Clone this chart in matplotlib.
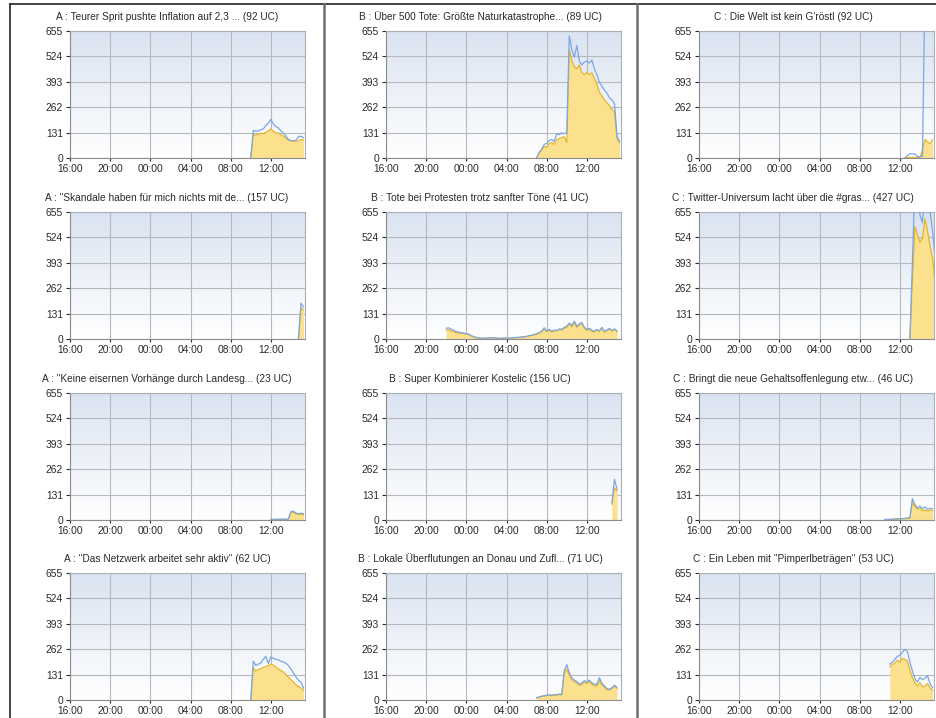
import numpy as np
import matplotlib
matplotlib.use('Agg')
import matplotlib.pyplot as plt
from matplotlib.colors import LinearSegmentedColormap
from matplotlib.lines import Line2D

plt.rcParams['font.family'] = ['Liberation Sans', 'DejaVu Sans']

# titles, columns A / B / C, rows top to bottom
titles_a = ['A : Teurer Sprit pushte Inflation auf 2,3 ... (92 UC)',
            'A : "Skandale haben für mich nichts mit de... (157 UC)',
            'A : "Keine eisernen Vorhänge durch Landesg... (23 UC)',
            'A : "Das Netzwerk arbeitet sehr aktiv" (62 UC)']
titles_b = ['B : Über 500 Tote: Größte Naturkatastrophe... (89 UC)',
            'B : Tote bei Protesten trotz sanfter Töne (41 UC)',
            'B : Super Kombinierer Kostelic (156 UC)',
            'B : Lokale Überflutungen an Donau und Zufl... (71 UC)']
titles_c = ["C : Die Welt ist kein G'röstl (92 UC)",
            'C : Twitter-Universum lacht über die #gras... (427 UC)',
            'C : Bringt die neue Gehaltsoffenlegung etw... (46 UC)',
            'C : Ein Leben mit "Pimperlbeträgen" (53 UC)']

time_labels = ['16:00', '20:00', '00:00', '04:00', '08:00', '12:00']
y_ticks = [0, 131, 262, 393, 524, 655]

# series start time (HH:MM), then values every 15 minutes
a1_start = '10:00'
a1_yellow = [0, 120, 118, 122, 128, 126, 132, 140, 150, 138, 130, 128, 120, 112, 104, 92, 87, 88, 86, 90, 95, 94]
a1_blue = [0, 142, 138, 140, 145, 150, 168, 180, 200, 175, 162, 155, 140, 128, 113, 95, 90, 88, 92, 110, 112, 105]

a2_start = '14:45'
a2_yellow = [0, 160, 150]
a2_blue = [0, 185, 165]

a3_start = '12:00'
a3_yellow = [2, 2, 3, 3, 3, 3, 3, 5, 38, 40, 32, 28, 30, 28]
a3_blue = [3, 3, 4, 4, 4, 4, 4, 6, 44, 45, 36, 32, 35, 32]

a4_start = '10:00'
a4_yellow = [0, 165, 150, 158, 160, 168, 172, 178, 185, 180, 170, 160, 152, 145, 130, 118, 105, 92, 78, 70, 62, 50]
a4_blue = [0, 200, 178, 185, 190, 210, 225, 188, 222, 215, 210, 208, 200, 196, 190, 178, 160, 140, 118, 102, 92, 62]

b1_start = '07:00'
b1_yellow = [0, 25, 40, 60, 55, 75, 80, 70, 95, 100, 105, 110, 80, 560, 500, 470, 460, 480, 440, 430, 440,
             430, 440, 410, 380, 340, 320, 300, 285, 270, 250, 240, 100, 80]
b1_blue = [0, 30, 45, 70, 75, 90, 95, 85, 125, 120, 130, 125, 130, 630, 560, 520, 580, 500, 480, 495, 500,
           490, 505, 460, 430, 390, 370, 350, 335, 310, 300, 280, 115, 85]

b2_start = '22:00'
b2_yellow = [45, 48, 40, 38, 33, 30, 30, 28, 24, 22, 15, 10, 6, 4, 3, 3, 4, 5, 4, 6, 4, 3, 3, 4, 3, 4, 5, 6,
             7, 8, 9, 10, 12, 15, 18, 20, 24, 30, 36, 50, 38, 45, 35, 42, 40, 48, 45, 55, 60, 75, 62, 85, 60,
             70, 78, 55, 45, 50, 40, 36, 45, 38, 55, 35, 42, 50, 40, 48, 38]
b2_blue = [55, 58, 50, 45, 38, 35, 33, 30, 27, 25, 17, 12, 8, 5, 4, 4, 5, 6, 5, 7, 5, 4, 4, 5, 4, 5, 6, 7,
           8, 9, 10, 12, 14, 17, 20, 23, 27, 33, 40, 58, 42, 50, 40, 46, 44, 52, 50, 60, 66, 82, 70, 92, 66,
           78, 85, 60, 50, 55, 45, 40, 50, 42, 60, 40, 46, 55, 44, 52, 42]

b3_start = '14:30'
b3_yellow = [80, 165, 150]
b3_blue = [90, 210, 160]

b4_start = '07:00'
b4_yellow = [10, 14, 18, 20, 22, 24, 22, 25, 24, 28, 26, 140, 160, 130, 105, 95, 88, 75, 80, 92, 85, 95,
             80, 75, 72, 100, 78, 65, 55, 50, 58, 70, 60]
b4_blue = [12, 16, 20, 22, 25, 27, 25, 28, 27, 31, 29, 150, 182, 140, 115, 102, 95, 82, 88, 100, 93, 102,
           88, 82, 80, 115, 86, 72, 60, 55, 63, 76, 66]

c1_start = '12:30'
c1_yellow = [0, 2, 3, 3, 3, 2, 4, 40, 95, 85, 72, 95]
c1_blue = [0, 12, 22, 22, 20, 8, 5, 10, 900, 900, 900, 900]

c2_start = '13:00'
c2_yellow = [0, 300, 580, 540, 500, 520, 620, 560, 480, 420, 300]
c2_blue = [0, 400, 800, 760, 640, 600, 800, 760, 660, 560, 420]

c3_start = '10:30'
c3_yellow = [2, 2, 3, 3, 4, 5, 5, 6, 7, 8, 10, 90, 70, 55, 60, 48, 52, 45, 50, 48]
c3_blue = [3, 3, 4, 4, 5, 6, 6, 7, 8, 10, 12, 110, 80, 62, 72, 58, 68, 55, 60, 58]

c4_start = '11:00'
c4_yellow = [170, 182, 190, 205, 195, 215, 210, 200, 155, 115, 90, 72, 90, 68, 72, 85, 65, 50]
c4_blue = [185, 195, 210, 225, 230, 245, 262, 250, 195, 150, 110, 92, 117, 105, 112, 125, 85, 65]

panels = [
    [(titles_a[0], a1_start, a1_yellow, a1_blue), (titles_b[0], b1_start, b1_yellow, b1_blue), (titles_c[0], c1_start, c1_yellow, c1_blue)],
    [(titles_a[1], a2_start, a2_yellow, a2_blue), (titles_b[1], b2_start, b2_yellow, b2_blue), (titles_c[1], c2_start, c2_yellow, c2_blue)],
    [(titles_a[2], a3_start, a3_yellow, a3_blue), (titles_b[2], b3_start, b3_yellow, b3_blue), (titles_c[2], c3_start, c3_yellow, c3_blue)],
    [(titles_a[3], a4_start, a4_yellow, a4_blue), (titles_b[3], b4_start, b4_yellow, b4_blue), (titles_c[3], c4_start, c4_yellow, c4_blue)],
]


def hours_since_16(hhmm):
    h, m = hhmm.split(':')
    return (int(h) + int(m) / 60. - 16) % 24


W, H = 936, 718
fig = plt.figure(figsize=(W / 100, H / 100), dpi=100)
fig.patch.set_facecolor('white')

bg_cmap = LinearSegmentedColormap.from_list('bg', ['#ffffff', '#dae3f1'])
gradient = np.linspace(0, 1, 256).reshape(-1, 1)

col_left = [70, 386, 699]
col_center = [167, 480, 793]
row_top = [31, 212, 393, 573]
ax_w, ax_h = 235, 127

for r in range(4):
    for c in range(3):
        title, start, yellow, blue = panels[r][c]
        ax = fig.add_axes([col_left[c] / W, 1 - (row_top[r] + ax_h) / H, ax_w / W, ax_h / H])
        ax.imshow(gradient, extent=[0, 1, 0, 1], transform=ax.transAxes, aspect='auto',
                  cmap=bg_cmap, origin='lower', zorder=0)

        t0 = hours_since_16(start)
        x = t0 + 0.25 * np.arange(len(yellow))
        ax.fill_between(x, 0, yellow, color='#fbe08e', lw=0, zorder=2)
        ax.plot(x, yellow, color='#e6b52a', lw=0.9, zorder=3)
        ax.plot(x, blue, color='#7aa7e3', lw=0.9, zorder=4)

        ax.set_xlim(0, 23.4)
        ax.set_ylim(0, 655)
        ax.set_xticks(range(0, 24, 4))
        ax.set_xticklabels(time_labels)
        ax.set_yticks(y_ticks)
        ax.grid(True, color='#b6b9be', lw=0.8, zorder=1)
        ax.set_axisbelow(True)
        ax.tick_params(labelsize=7.4, colors='#2a2a2a', length=3, width=0.8, pad=2)
        ax.tick_params(axis='x', length=2.5, pad=1.5)
        for s in ['left', 'bottom']:
            ax.spines[s].set_color('#8c8c8c')
            ax.spines[s].set_linewidth(0.8)
        for s in ['top', 'right']:
            ax.spines[s].set_color('#a9b0ba')
            ax.spines[s].set_linewidth(0.8)

        fig.text(col_center[c] / W, 1 - (row_top[r] - 14) / H, title, ha='center', va='center',
                 fontsize=7.3, color='#2a2a2a')

# frame lines between the columns
fig.add_artist(Line2D([10 / W, 10 / W], [0, 1 - 4 / H], color='#222222', lw=1.2))
fig.add_artist(Line2D([10 / W, 1], [1 - 4 / H, 1 - 4 / H], color='#222222', lw=1.2))
for px in [324, 637]:
    fig.add_artist(Line2D([px / W, px / W], [0, 1 - 4 / H], color='#6e6e6e', lw=1.8))

fig.savefig('out.png', dpi=100)
